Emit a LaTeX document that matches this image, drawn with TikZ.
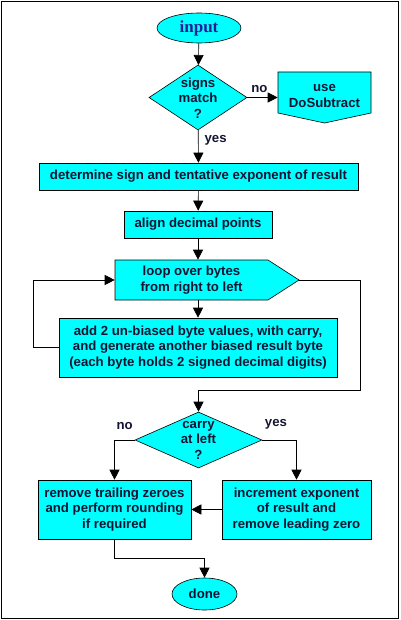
\documentclass[tikz,border=0pt]{standalone}
\usepackage{fontspec}
\setmainfont{Liberation Sans}
\newfontfamily\serifinput{Liberation Serif}
\usetikzlibrary{shapes.geometric,arrows.meta}
\definecolor{boxcyan}{RGB}{0,255,255}
\definecolor{inktext}{RGB}{20,20,50}
\definecolor{inputblue}{RGB}{40,30,150}
\tikzset{
  flowbox/.style={draw,fill=boxcyan,inner sep=0pt,align=center},
  flowtxt/.style={inner sep=0pt,align=center,text=inktext,
    font=\fontsize{13.2}{15.5}\selectfont\bfseries},
  decide/.style={draw,fill=boxcyan,diamond,inner sep=0pt},
  term/.style={draw,fill=boxcyan,ellipse,inner sep=0pt},
  arr/.style={-{Triangle[length=10pt,width=10pt]}},
}
\begin{document}
\begin{tikzpicture}[x=1pt,y=-1pt,line width=0.6pt]
  \useasboundingbox (0,0) rectangle (400,620);
  \draw[line width=0.8pt] (1,1) rectangle (398,618);
  % start
  \node[term,minimum width=84pt,minimum height=30pt] (in) at (199,28)
    {\serifinput\fontsize{17}{17}\selectfont\bfseries\color{inputblue}input};
  % signs match
  \node[decide,minimum width=98pt,minimum height=65pt] (sm) at (198,97.5) {};
  \node[flowtxt] (smt) at (198,98) {signs\\match\\?};
  \draw[flowbox] (278,72) -- (371,72) -- (371,113) -- (324.5,123)
    -- (278,113) -- cycle;
  \node[flowtxt,minimum width=93pt,minimum height=41pt] (ds) at (324.5,96)
    {use\\DoSubtract};
  \draw[arr] (in) -- (sm);
  \draw[arr] (sm.east) -- node[flowtxt,pos=0.4,above=5pt]{no} (sm.east -| ds.west);
  % sign and exponent
  \node[flowbox,flowtxt,minimum width=319pt,minimum height=27pt] (det)
    at (198.5,176.5) {determine sign and tentative exponent of result};
  \draw[arr] (sm) -- node[flowtxt,pos=0.3,right=6pt]{yes} (det);
  \node[flowbox,flowtxt,minimum width=148pt,minimum height=27pt] (al)
    at (198,224.5) {align decimal points};
  \draw[arr] (det) -- (al);
  % loop
  \draw[flowbox] (115,260) -- (268,260) -- (299,280) -- (268,300)
    -- (115,300) -- cycle;
  \node[flowtxt,minimum width=153pt,minimum height=40pt] (lp) at (191.5,280)
    {loop over bytes\\from right to left};
  \coordinate (lptip) at (299,280);
  \draw[arr] (al) -- (al |- lp.north);
  \node[flowbox,flowtxt,minimum width=278pt,minimum height=59pt] (add)
    at (198,347.5) {add 2 un-biased byte values, with carry,\\
    and generate another biased result byte\\
    (each byte holds 2 signed decimal digits)};
  \draw[arr] (al |- lp.south) -- (add.north -| al);
  \draw[arr] (add.west) -- ++(-25,0) |- (lp.west);
  % carry
  \node[decide,minimum width=127pt,minimum height=56pt] (cy) at (198.5,440) {};
  \node[flowtxt] (cyt) at (198.5,440) {carry\\at left\\?};
  \draw[arr] (lptip) -- (360,280) -- (360,390) -| (cy.north);
  \node[flowbox,flowtxt,minimum width=153pt,minimum height=59pt] (rm)
    at (114.5,509.5) {remove trailing zeroes\\and perform rounding\\if required};
  \node[flowbox,flowtxt,minimum width=149pt,minimum height=59pt] (inc)
    at (296.5,509.5) {increment exponent\\of result and\\remove leading zero};
  \draw[arr] (cy.west) -| node[flowtxt,pos=0.25,above=10pt]{no} (rm.north);
  \draw[arr] (cy.east) -| node[flowtxt,pos=0.2,above=10pt]{yes} (inc.north);
  \draw[arr] (inc.west) -- (rm.east);
  % finish
  \node[term,flowtxt,minimum width=65pt,minimum height=32pt] (dn)
    at (204.5,594) {done};
  \draw[arr] (rm.south) |- (204.5,558) -- (dn.north);
\end{tikzpicture}
\end{document}
